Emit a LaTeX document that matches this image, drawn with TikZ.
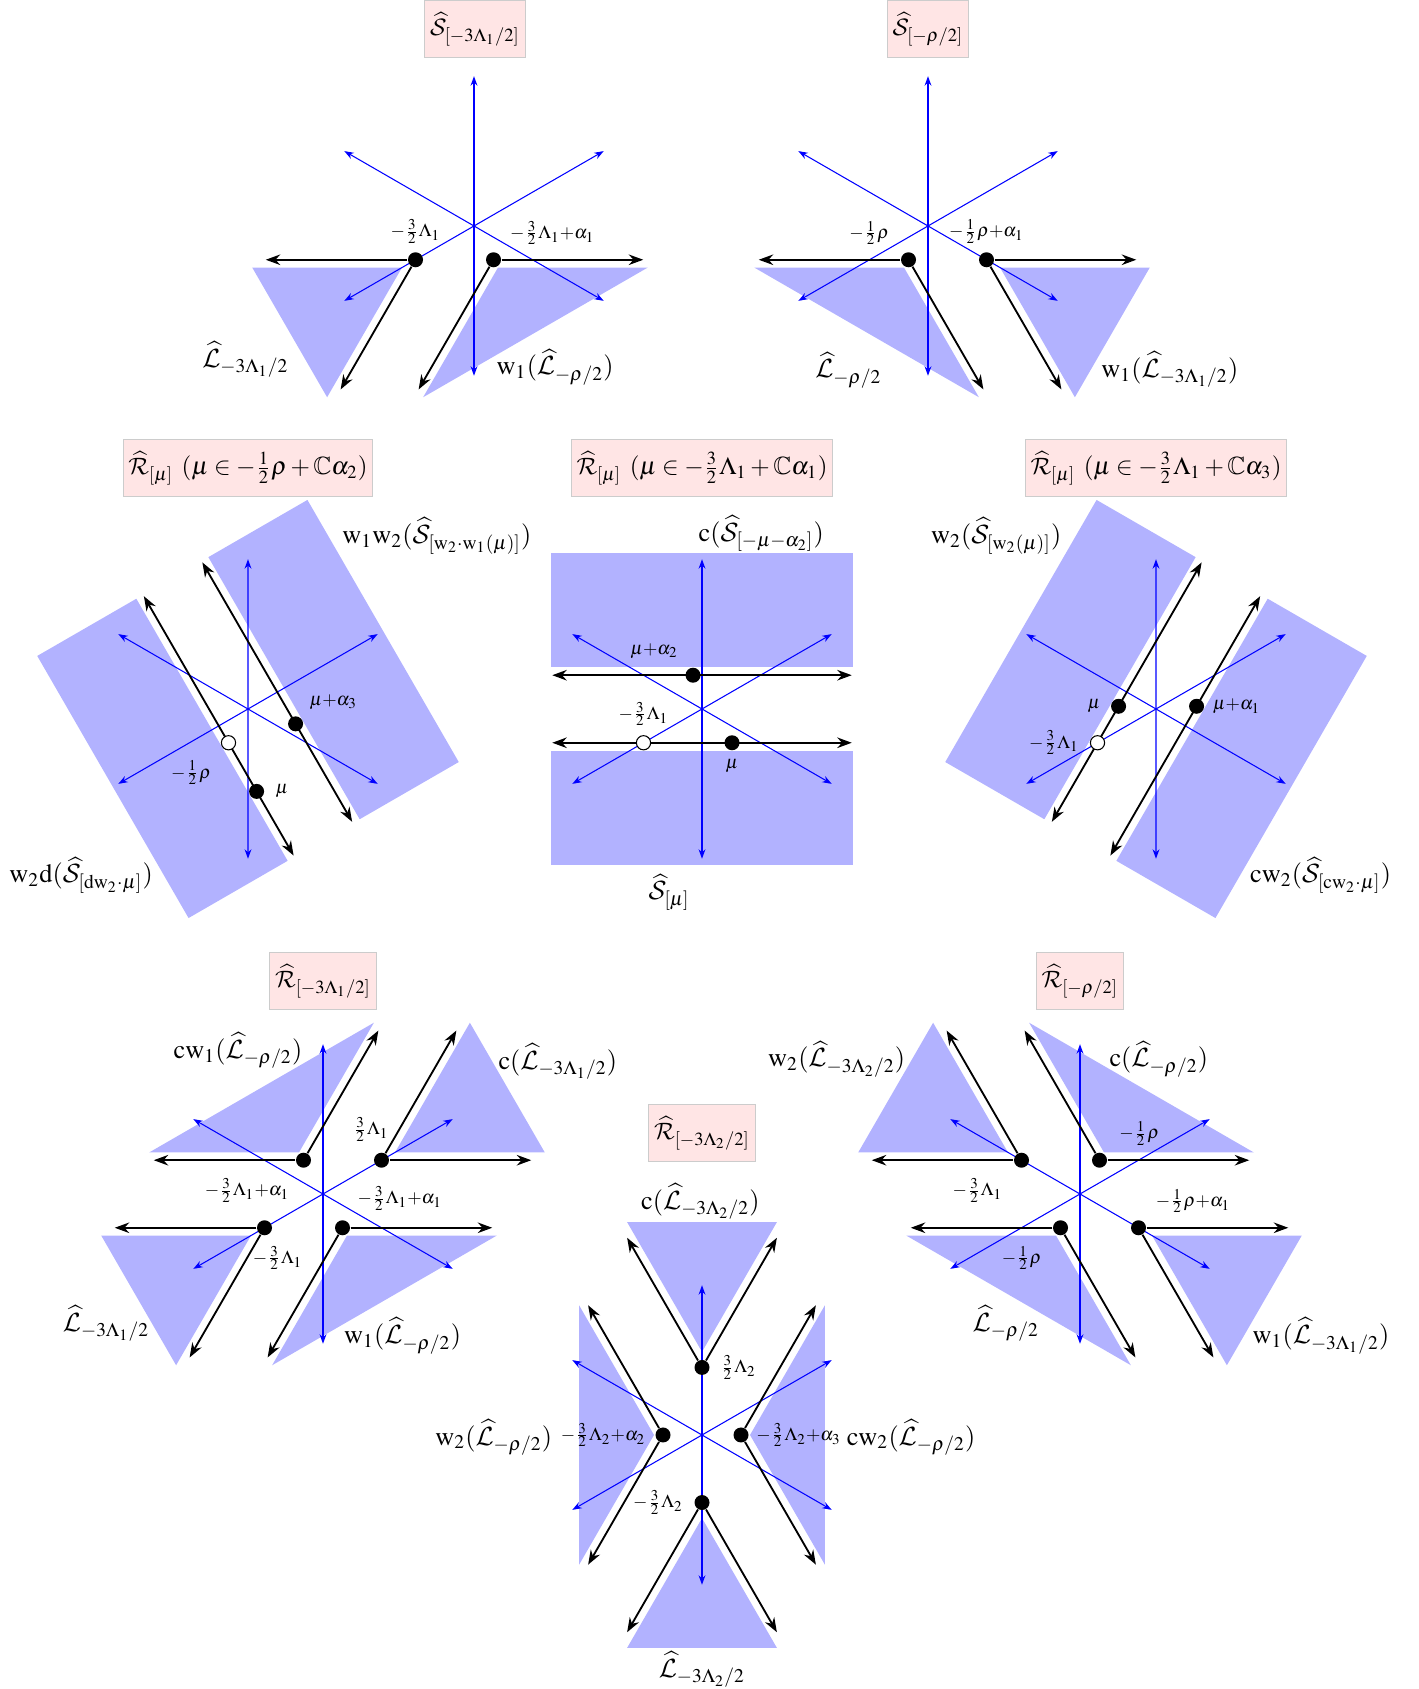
\documentclass[tikz,border=0pt]{standalone}
\usepackage{amsmath}
\usepackage{amssymb}
\usepackage{mathptmx}
\DeclareMathAlphabet{\mathcal}{OMS}{cmsy}{m}{n}
\usepackage{tikz}
\usetikzlibrary{positioning,calc,arrows.meta,backgrounds}

\newcommand{\weightcone}[3]{%
  \begin{scope}[on background layer]
    \fill[chamber] ($(#1)+({(#2+#3)/2}:{0.1/sin((#3-#2)/2)})$) coordinate (apex)
      -- ++(#2:1.92) -- ($(apex)+(#3:1.92)$) -- cycle;
  \end{scope}
  \draw[ray] (#1) -- ++(#2:1.92);
  \draw[ray] (#1) -- ++(#3:1.92);
}
\newcommand{\rootstar}{%
  \foreach \ang in {90,210,330}
    \draw[root] (\ang:1.92) -- ({\ang+180}:1.92);
}

\begin{document}
\begin{tikzpicture}[
    x=0.38pt, y=0.38pt,
    panel/.style={x=29.64pt, y=29.64pt},
    chamber/.style={fill=blue!30},
    root/.style={blue, line width=0.4pt, <->, >={Stealth[length=3.6pt, width=2.6pt]}},
    ray/.style={line width=0.7pt, ->, >={Stealth[length=5.5pt, width=4pt]}},
    wall/.style={line width=0.7pt, <->, >={Stealth[length=5.5pt, width=4pt]}},
    wdot/.style={circle, fill=black, inner sep=0pt, minimum size=5.7pt},
    hole/.style={circle, draw=black, fill=white, line width=0.4pt, inner sep=0pt, minimum size=5.4pt},
    titlebox/.style={fill=red!10, draw=black!20, inner xsep=2pt, inner ysep=4.5pt, font=\fontsize{9.5}{11}\selectfont},
    wtag/.style={inner sep=1pt, font=\fontsize{9.5}{11}\selectfont},
    bigtag/.style={inner sep=1pt}
]
    \useasboundingbox (0,0) rectangle (1419,1689);

    \coordinate (c1) at (474,1463);
    \coordinate (c2) at (928,1463);
    \coordinate (c4) at (248,980);
    \coordinate (c5) at (702,980);
    \coordinate (c6) at (1156,980);
    \coordinate (c7) at (323,495);
    \coordinate (c8) at (1080,495);
    \coordinate (c9) at (702,254);

    \node[titlebox] (t1) at (475,1660) {$\widehat{\mathcal S}_{[-3\Lambda_1/2]}$};
    \node[titlebox] (t2) at (928,1660) {$\widehat{\mathcal S}_{[-\rho/2]}$};
    \node[titlebox] (t4) at (248,1221) {$\widehat{\mathcal R}_{[\mu]}\ (\mu\in-\frac{1}{2}\rho+\mathbb{C}\alpha_2)$};
    \node[titlebox] (t5) at (702,1221) {$\widehat{\mathcal R}_{[\mu]}\ (\mu\in-\frac{3}{2}\Lambda_1+\mathbb{C}\alpha_1)$};
    \node[titlebox] (t6) at (1156,1221) {$\widehat{\mathcal R}_{[\mu]}\ (\mu\in-\frac{3}{2}\Lambda_1+\mathbb{C}\alpha_3)$};
    \node[titlebox] (t7) at (323,708) {$\widehat{\mathcal R}_{[-3\Lambda_1/2]}$};
    \node[titlebox] (t8) at (1080,708) {$\widehat{\mathcal R}_{[-\rho/2]}$};
    \node[titlebox] (t9) at (702,556) {$\widehat{\mathcal R}_{[-3\Lambda_2/2]}$};

    \begin{scope}[shift={(c1)}, panel]
        \rootstar
        \node[wdot] (s1a) at (-0.75,-0.433) {};
        \node[wdot] (s1b) at (0.25,-0.433) {};
        \weightcone{s1a}{180}{240}
        \weightcone{s1b}{240}{360}
        \node[wtag, above=2pt of s1a] (s1at) {$\scriptstyle -\frac{3}{2}\Lambda_1$};
        \node[wtag, above right=2.3pt and 3pt of s1b] (s1bt) {$\scriptstyle -\frac{3}{2}\Lambda_1+\alpha_1$};
        \node[bigtag] (s1l) at (-2.93,-1.71) {$\widehat{\mathcal L}_{-3\Lambda_1/2}$};
        \node[bigtag] (s1r) at (1.04,-1.81) {$\mathrm{w}_1(\widehat{\mathcal L}_{-\rho/2})$};
    \end{scope}

    \begin{scope}[shift={(c2)}, panel]
        \rootstar
        \node[wdot] (s2a) at (-0.25,-0.433) {};
        \node[wdot] (s2b) at (0.75,-0.433) {};
        \weightcone{s2a}{180}{300}
        \weightcone{s2b}{300}{360}
        \node[wtag, above left=2.3pt and 4pt of s2a] (s2at) {$\scriptstyle -\frac{1}{2}\rho$};
        \node[wtag, above=2pt of s2b] (s2bt) {$\scriptstyle -\frac{1}{2}\rho+\alpha_1$};
        \node[bigtag] (s2l) at (-1.02,-1.85) {$\widehat{\mathcal L}_{-\rho/2}$};
        \node[bigtag] (s2r) at (3.10,-1.84) {$\mathrm{w}_1(\widehat{\mathcal L}_{-3\Lambda_1/2})$};
    \end{scope}

    \begin{scope}[shift={(c4)}, panel]
        \begin{scope}[rotate=-60]
            \fill[chamber] (-1.94,0.533) rectangle (1.94,2);
            \fill[chamber] (-1.94,-0.533) rectangle (1.94,-2);
            \rootstar
            \draw[wall] (-1.92,0.433) -- (1.92,0.433);
            \draw[wall] (-1.92,-0.433) -- (1.92,-0.433);
            \node[hole] (r4h) at (0.25,-0.433) {};
            \node[wdot] (r4m) at (0.97,-0.433) {};
            \node[wdot] (r4n) at (0.47,0.433) {};
        \end{scope}
        \node[wtag, above right=2.2pt and 2pt of r4n] (r4nt) {$\scriptstyle \mu+\alpha_3$};
        \node[wtag, below left=3.6pt and 3.4pt of r4h] (r4ht) {$\scriptstyle -\frac{1}{2}\rho$};
        \node[wtag, right=3pt of r4m] (r4mt) {$\scriptstyle \mu$};
        \node[bigtag] (r4u) at (2.42,2.22) {$\mathrm{w}_1\mathrm{w}_2(\widehat{\mathcal S}_{[\mathrm{w}_2\cdot\mathrm{w}_1(\mu)]})$};
        \node[bigtag] (r4d) at (-2.14,-2.13) {$\mathrm{w}_2\mathrm{d}(\widehat{\mathcal S}_{[\mathrm{dw}_2\cdot\mu]})$};
    \end{scope}

    \begin{scope}[shift={(c5)}, panel]
        \fill[chamber] (-1.94,0.533) rectangle (1.94,2);
        \fill[chamber] (-1.94,-0.533) rectangle (1.94,-2);
        \rootstar
        \draw[wall] (-1.92,0.433) -- (1.92,0.433);
        \draw[wall] (-1.92,-0.433) -- (1.92,-0.433);
        \node[hole] (r5h) at (-0.75,-0.433) {};
        \node[wdot] (r5m) at (0.385,-0.433) {};
        \node[wdot] (r5n) at (-0.115,0.433) {};
        \node[wtag, above left=3pt and 2.4pt of r5n] (r5nt) {$\scriptstyle \mu+\alpha_2$};
        \node[wtag, above=2.3pt of r5h] (r5ht) {$\scriptstyle -\frac{3}{2}\Lambda_1$};
        \node[wtag, below=2.2pt of r5m] (r5mt) {$\scriptstyle \mu$};
        \node[bigtag] (r5u) at (0.76,2.25) {$\mathrm{c}(\widehat{\mathcal S}_{[-\mu-\alpha_2]})$};
        \node[bigtag] (r5d) at (-0.42,-2.35) {$\widehat{\mathcal S}_{[\mu]}$};
    \end{scope}

    \begin{scope}[shift={(c6)}, panel]
        \begin{scope}[rotate=60]
            \fill[chamber] (-1.94,0.533) rectangle (1.94,2);
            \fill[chamber] (-1.94,-0.533) rectangle (1.94,-2);
            \rootstar
            \draw[wall] (-1.92,0.433) -- (1.92,0.433);
            \draw[wall] (-1.92,-0.433) -- (1.92,-0.433);
            \node[hole] (r6h) at (-0.75,0.433) {};
            \node[wdot] (r6m) at (-0.21,0.433) {};
            \node[wdot] (r6n) at (0.29,-0.433) {};
        \end{scope}
        \node[wtag, left=2.7pt of r6m] (r6mt) {$\scriptstyle \mu$};
        \node[wtag, left=3pt of r6h] (r6ht) {$\scriptstyle -\frac{3}{2}\Lambda_1$};
        \node[wtag, right=2pt of r6n] (r6nt) {$\scriptstyle \mu+\alpha_1$};
        \node[bigtag] (r6u) at (-2.05,2.22) {$\mathrm{w}_2(\widehat{\mathcal S}_{[\mathrm{w}_2(\mu)]})$};
        \node[bigtag] (r6d) at (2.11,-2.13) {$\mathrm{cw}_2(\widehat{\mathcal S}_{[\mathrm{cw}_2\cdot\mu]})$};
    \end{scope}

    \begin{scope}[shift={(c7)}, panel]
        \rootstar
        \node[wdot] (p7a) at (-0.25,0.433) {};
        \node[wdot] (p7b) at (0.75,0.433) {};
        \node[wdot] (p7c) at (-0.75,-0.433) {};
        \node[wdot] (p7d) at (0.25,-0.433) {};
        \weightcone{p7a}{60}{180}
        \weightcone{p7b}{0}{60}
        \weightcone{p7c}{180}{240}
        \weightcone{p7d}{240}{360}
        \node[wtag, above=3pt of p7b, xshift=-4pt] (p7bt) {$\scriptstyle \frac{3}{2}\Lambda_1$};
        \node[wtag, below left=3.6pt and 2pt of p7a] (p7at) {$\scriptstyle -\frac{3}{2}\Lambda_1+\alpha_1$};
        \node[wtag, above right=3.2pt and 2.4pt of p7d] (p7dt) {$\scriptstyle -\frac{3}{2}\Lambda_1+\alpha_1$};
        \node[wtag, below=2.7pt of p7c, xshift=5pt] (p7ct) {$\scriptstyle -\frac{3}{2}\Lambda_1$};
        \node[bigtag] (p7ul) at (-1.09,1.84) {$\mathrm{cw}_1(\widehat{\mathcal L}_{-\rho/2})$};
        \node[bigtag] (p7ur) at (3.01,1.70) {$\mathrm{c}(\widehat{\mathcal L}_{-3\Lambda_1/2})$};
        \node[bigtag] (p7dl) at (-2.78,-1.66) {$\widehat{\mathcal L}_{-3\Lambda_1/2}$};
        \node[bigtag] (p7dr) at (1.02,-1.82) {$\mathrm{w}_1(\widehat{\mathcal L}_{-\rho/2})$};
    \end{scope}

    \begin{scope}[shift={(c8)}, panel]
        \rootstar
        \node[wdot] (p8a) at (-0.75,0.433) {};
        \node[wdot] (p8b) at (0.25,0.433) {};
        \node[wdot] (p8c) at (-0.25,-0.433) {};
        \node[wdot] (p8d) at (0.75,-0.433) {};
        \weightcone{p8a}{120}{180}
        \weightcone{p8b}{0}{120}
        \weightcone{p8c}{180}{300}
        \weightcone{p8d}{300}{360}
        \node[wtag, above right=2.3pt and 4.2pt of p8b] (p8bt) {$\scriptstyle -\frac{1}{2}\rho$};
        \node[wtag, below left=3.6pt and 3.9pt of p8a] (p8at) {$\scriptstyle -\frac{3}{2}\Lambda_1$};
        \node[wtag, above right=2.3pt and 3.2pt of p8d] (p8dt) {$\scriptstyle -\frac{1}{2}\rho+\alpha_1$};
        \node[wtag, below left=3.6pt and 3.8pt of p8c] (p8ct) {$\scriptstyle -\frac{1}{2}\rho$};
        \node[bigtag] (p8ul) at (-3.12,1.73) {$\mathrm{w}_2(\widehat{\mathcal L}_{-3\Lambda_2/2})$};
        \node[bigtag] (p8ur) at (1.01,1.73) {$\mathrm{c}(\widehat{\mathcal L}_{-\rho/2})$};
        \node[bigtag] (p8dl) at (-0.95,-1.66) {$\widehat{\mathcal L}_{-\rho/2}$};
        \node[bigtag] (p8dr) at (3.09,-1.82) {$\mathrm{w}_1(\widehat{\mathcal L}_{-3\Lambda_1/2})$};
    \end{scope}

    \begin{scope}[shift={(c9)}, panel]
        \rootstar
        \node[wdot] (p9a) at (0,0.866) {};
        \node[wdot] (p9b) at (0,-0.866) {};
        \node[wdot] (p9c) at (-0.5,0) {};
        \node[wdot] (p9d) at (0.5,0) {};
        \weightcone{p9a}{60}{120}
        \weightcone{p9b}{240}{300}
        \weightcone{p9c}{120}{240}
        \weightcone{p9d}{300}{420}
        \node[wtag, right=2.8pt of p9a] (p9at) {$\scriptstyle \frac{3}{2}\Lambda_2$};
        \node[wtag, left=2.4pt of p9c] (p9ct) {$\scriptstyle -\frac{3}{2}\Lambda_2+\alpha_2$};
        \node[wtag, right=1.6pt of p9d] (p9dt) {$\scriptstyle -\frac{3}{2}\Lambda_2+\alpha_3$};
        \node[wtag, left=3pt of p9b] (p9bt) {$\scriptstyle -\frac{3}{2}\Lambda_2$};
        \node[bigtag] (p9u) at (-0.02,2.99) {$\mathrm{c}(\widehat{\mathcal L}_{-3\Lambda_2/2})$};
        \node[bigtag] (p9l) at (-2.67,-0.03) {$\mathrm{w}_2(\widehat{\mathcal L}_{-\rho/2})$};
        \node[bigtag] (p9r) at (2.68,-0.03) {$\mathrm{cw}_2(\widehat{\mathcal L}_{-\rho/2})$};
        \node[bigtag] (p9d) at (0,-3.01) {$\widehat{\mathcal L}_{-3\Lambda_2/2}$};
    \end{scope}
\end{tikzpicture}
\end{document}
